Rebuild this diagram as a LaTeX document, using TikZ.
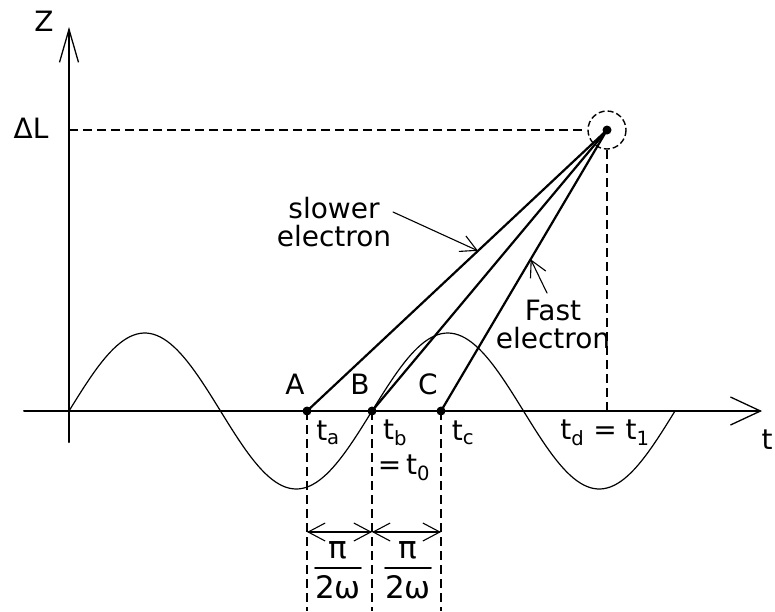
\documentclass[tikz,border=0pt]{standalone}
\usepackage{fontspec}
\setmainfont{DejaVu Sans}
\usetikzlibrary{arrows.meta}

\tikzset{
  lbl/.style={inner sep=0pt, font=\fontsize{28}{28}\selectfont},
  fraclbl/.style={inner sep=0pt, font=\fontsize{31}{31}\selectfont},
  dashln/.style={line width=2pt, dash pattern=on 9pt off 5pt, line cap=butt},
  dot/.style={circle, fill, inner sep=0pt, minimum size=9pt},
  ray/.style={line width=2.2pt},
  barb/.style={-{Straight Barb[length=16pt,width=17pt,line width=1.1pt]}},
  dimbarb/.style={{Straight Barb[length=17pt,width=18pt,line width=1.1pt]}-{Straight Barb[length=17pt,width=18pt,line width=1.1pt]}},
}

\begin{document}
\begin{tikzpicture}[x=1pt, y=-1pt, line cap=round, line join=round]

  %% ════ axes ════
  \coordinate (O) at (69,411);
  \draw[line width=2pt, -{Straight Barb[length=30pt,width=28pt,line width=1.3pt]}] (24,411) -- (762,411);
  \draw[line width=2pt, -{Straight Barb[length=33pt,width=19pt,line width=1.3pt]}] (69,442) -- (69,27);
  \node[lbl] (zlab) at (44,21) {Z};
  \node[lbl] (dL) at (31,128) {ΔL};
  \node[lbl] (tlab) at (767,440) {t};

  %% ════ sine wave ════
  \draw[line width=1.2pt] plot[domain=0:606, samples=180] ({69+\x},{411-78*sin(\x/151.5*180)});

  %% ════ end point ════
  \coordinate (P) at (607,130);
  \draw[line width=1.4pt, dash pattern=on 6pt off 3pt, line cap=butt] (P) circle (19);
  \draw[dashln] (O |- P) -- ([xshift=-21pt]P);
  \draw[dashln] ([yshift=-20pt]P) -- (P |- O);
  \fill (P) circle (4.5);

  %% ════ start points on the axis ════
  \node[dot] (A) at (307,411) {};
  \node[dot] (B) at (372,411) {};
  \node[dot] (C) at (441,411) {};
  \node[lbl] (Alab) at (295,384) {A};
  \node[lbl] (Blab) at (360,384) {B};
  \node[lbl] (Clab) at (428,384) {C};

  \draw[ray] (A.center) -- (P) coordinate[pos=0.57] (slowtip);
  \draw[ray] (B.center) -- (P);
  \draw[ray] (C.center) -- (P) coordinate[pos=0.54] (fasttip);

  %% ════ electron labels ════
  \node[lbl, align=center] (slow) at (334,222) {slower\\electron};
  \coordinate (slowtail) at (393,212);
  \draw[line width=1.1pt, barb] (slowtail) -- (slowtip);
  \node[lbl, align=center] (fast) at (553,324) {Fast\\electron};
  \coordinate (fasttail) at (547,293);
  \draw[line width=1.1pt, barb] (fasttail) -- (fasttip);

  %% ════ time labels ════
  \node[lbl] (ta) at (328,433) {t\textsubscript{a}};
  \node[lbl] (tb) at (395,433) {t\textsubscript{b}};
  \node[lbl] (t0) at (404,468) {=\,t\textsubscript{0}};
  \node[lbl] (tc) at (463,433) {t\textsubscript{c}};
  \node[lbl] (td) at (605,433) {t\textsubscript{d} = t\textsubscript{1}};

  %% ════ dashed drops + pi/(2 omega) spacing ════
  \foreach \p in {A,B,C}
    \draw[dashln] (\p.center) -- ++(0,200);
  \coordinate (dA) at (A |- 0,532);
  \coordinate (dB) at (B |- 0,532);
  \coordinate (dC) at (C |- 0,532);
  \draw[line width=1.2pt, dimbarb] (dA) -- (dB);
  \draw[line width=1.2pt, dimbarb] (dB) -- (dC);

  \foreach \cx/\nm in {338/fa, 408/fb} {
    \node[fraclbl] (\nm pi) at (\cx,550) {π};
    \node[fraclbl] (\nm om) at (\cx,587) {2ω};
    \draw[line width=1.6pt] (\nm om.west |- 0,568) -- (\nm om.east |- 0,568);
  }

  \pgfresetboundingbox
  \path[use as bounding box] (0,0) rectangle (775,611);
\end{tikzpicture}
\end{document}
